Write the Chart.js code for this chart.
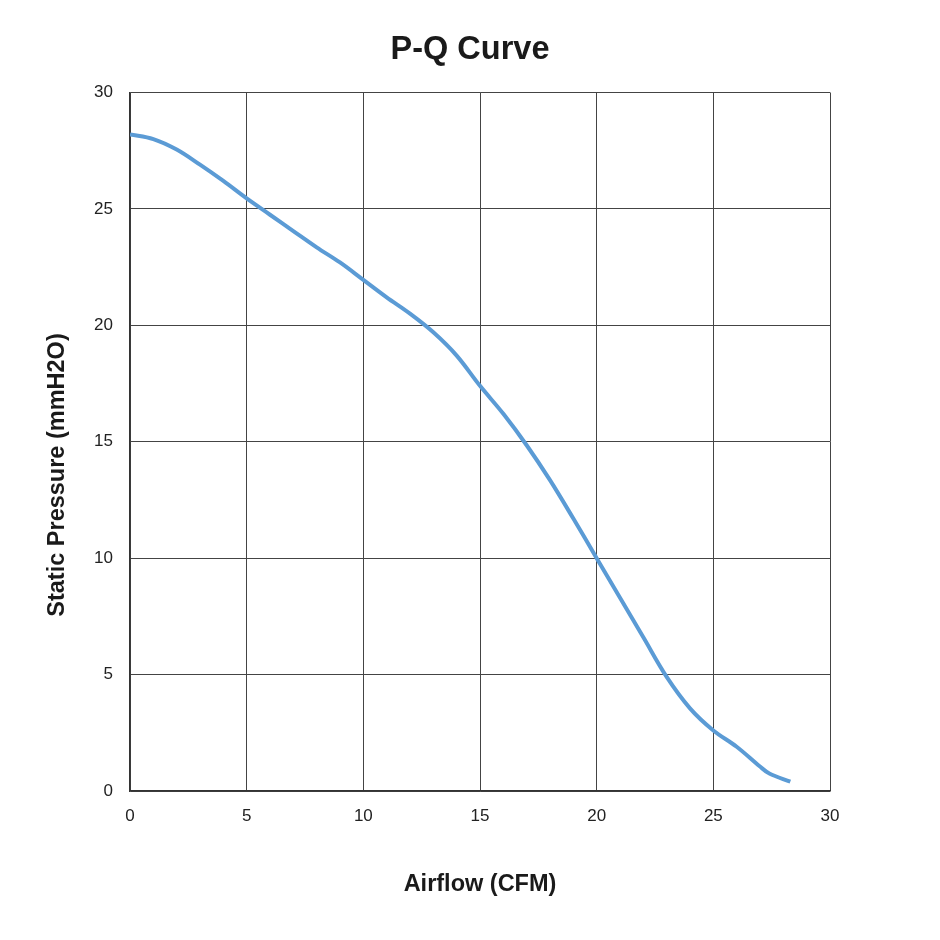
<!DOCTYPE html>
<html>
<head>
<meta charset="utf-8">
<script src="https://cdn.jsdelivr.net/npm/chart.js@4/dist/chart.umd.min.js"></script>
<style>
html,body{margin:0;padding:0;background:#fff;}
#wrap{width:940px;height:940px;}
</style>
</head>
<body>
<div id="wrap"><canvas id="c" width="940" height="940"></canvas></div>
<script>
const airflow = [0, 1, 2, 3, 4, 5, 6, 7, 8, 9, 10, 11, 12, 13, 14, 15, 16, 17, 18, 19, 20, 21, 22, 23, 24, 25, 26, 27, 27.4, 28.3];
const pressure = [28.2, 28.0, 27.55, 26.9, 26.2, 25.45, 24.75, 24.05, 23.35, 22.7, 21.95, 21.2, 20.5, 19.7, 18.7, 17.4, 16.2, 14.85, 13.35, 11.7, 10.0, 8.3, 6.6, 4.9, 3.55, 2.6, 1.9, 1.05, 0.75, 0.4];
const xTicks = [0, 5, 10, 15, 20, 25, 30];
const yTicks = [0, 5, 10, 15, 20, 25, 30];

const points = airflow.map((q, i) => ({x: q, y: pressure[i]}));

new Chart(document.getElementById('c'), {
  type: 'scatter',
  data: {
    datasets: [{
      data: points,
      showLine: true,
      borderColor: '#5B9BD5',
      borderWidth: 4,
      pointRadius: 0,
      tension: 0.35,
      fill: false
    }]
  },
  options: {
    responsive: false,
    animation: false,
    devicePixelRatio: 1,
    layout: {padding: {left: 0, right: 0, top: 10, bottom: 0}},
    plugins: {
      legend: {display: false},
      tooltip: {enabled: false},
      title: {
        display: true,
        text: 'P-Q Curve',
        color: '#1a1a1a',
        font: {family: 'Liberation Sans', size: 32.5, weight: 'bold'},
        padding: {top: 20.5, bottom: 23}
      },
      subtitle: {
        display: true,
        position: 'left',
        fullSize: true,
        text: 'Static Pressure (mmH2O)',
        color: '#1a1a1a',
        font: {family: 'Liberation Sans', size: 23.5, weight: 'bold'},
        padding: {top: 43, bottom: 0}
      }
    },
    scales: {
      x: {
        type: 'linear',
        min: 0, max: 30,
        afterBuildTicks: s => { s.ticks = xTicks.map(v => ({value: v})); },
        afterFit: s => { s.height = 149; },
        ticks: {color: '#222', font: {family: 'Liberation Sans', size: 17}, padding: 15},
        grid: {color: '#444', lineWidth: 1, drawTicks: false},
        border: {color: '#333', width: 1.5},
        title: {
          display: true,
          text: 'Airflow (CFM)',
          color: '#1a1a1a',
          font: {family: 'Liberation Sans', size: 23.5, weight: 'bold'},
          padding: {top: 0, bottom: 41}
        }
      },
      y: {
        type: 'linear',
        min: 0, max: 30,
        afterBuildTicks: s => { s.ticks = yTicks.map(v => ({value: v})); },
        afterFit: s => { s.width = 58.8; },
        ticks: {color: '#222', font: {family: 'Liberation Sans', size: 17}, padding: 17},
        grid: {color: '#444', lineWidth: 1, drawTicks: false},
        border: {color: '#333', width: 1.5}
      },
      yRight: {
        type: 'linear',
        position: 'right',
        min: 0, max: 30,
        afterFit: s => { s.width = 110; },
        ticks: {display: false},
        grid: {display: false},
        border: {display: false}
      }
    }
  }
});
</script>
</body>
</html>
